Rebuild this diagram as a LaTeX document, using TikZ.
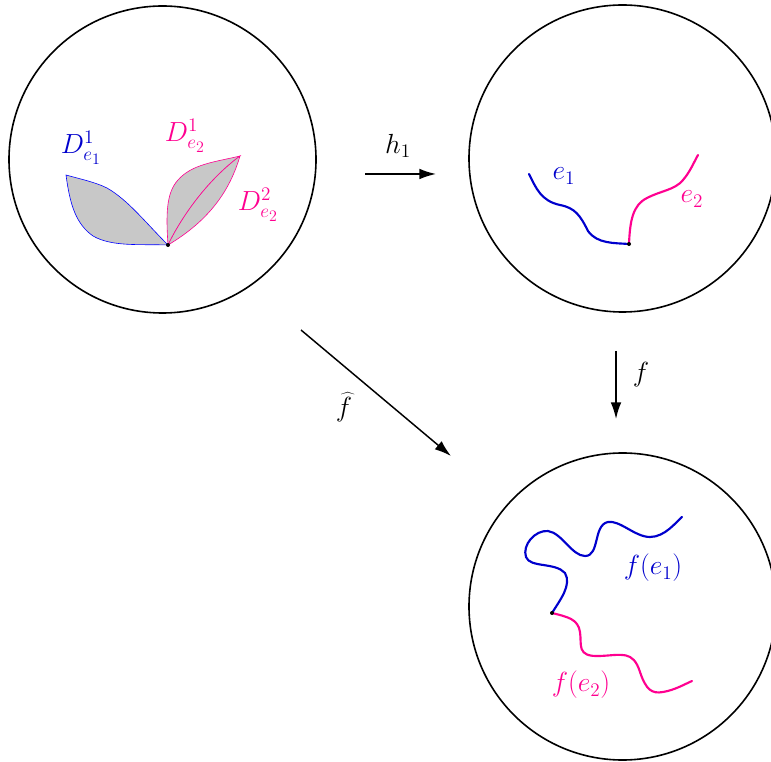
\documentclass[tikz,border=0pt]{standalone}
\usetikzlibrary{arrows.meta}
\definecolor{myblue}{RGB}{0,0,205}
\definecolor{mypink}{RGB}{255,0,144}
\definecolor{leafgray}{RGB}{200,200,200}
\begin{document}
\begin{tikzpicture}[x=0.75pt,y=-0.75pt,
  disk/.style={draw,line width=1.2pt,circle,minimum size=307*0.75pt,inner sep=0pt},
  curve/.style={line width=1.6pt,line cap=round},
  leaf/.style={line width=0.45pt,fill=leafgray},
  maparrow/.style={line width=1.1pt,-{Latex[length=12.5pt,width=8pt]}},
  lbl/.style={font=\huge,inner sep=1pt},
  dot/.style={circle,fill=black,inner sep=0pt,minimum size=3pt}]
\useasboundingbox (0,0) rectangle (771,762);
% disks
\node[disk] (D1) at (162.5,159.5) {};
\node[disk] (D2) at (622.5,158.5) {};
\node[disk] (D3) at (622.5,606.5) {};
% left disk leaves
\coordinate (v1) at (168,245);
\coordinate (tb) at (66,175);
\coordinate (tp) at (240,156);
\draw[leaf,draw=blue] (tb) .. controls (70,205) and (76,224) .. (93,236)
   .. controls (112,247) and (140,244) .. (v1)
   .. controls (145,222) and (128,200) .. (107,188)
   .. controls (95,182) and (80,179) .. (tb) -- cycle;
\draw[leaf,draw=mypink] (v1) .. controls (166,215) and (166,193) .. (178,180)
   .. controls (192,164) and (215,162) .. (tp)
   .. controls (205,182) and (180,220) .. (v1) -- cycle;
\draw[leaf,draw=mypink] (v1) .. controls (180,220) and (205,182) .. (tp)
   .. controls (230,190) and (210,220) .. (v1) -- cycle;
\node[dot] (p1) at (v1) {};
\node[lbl,text=myblue] (L1) at (81,148) {$D^1_{e_1}$};
\node[lbl,text=mypink] (L2) at (185,136) {$D^1_{e_2}$};
\node[lbl,text=mypink] (L3) at (258,205) {$D^2_{e_2}$};
% top right disk
\coordinate (v2) at (629,244);
\draw[curve,draw=myblue] (529,174) .. controls (536,188) and (541,201) .. (560,205)
  .. controls (575,208) and (580,215) .. (588,231)
  .. controls (597,244) and (615,243) .. (v2);
\draw[curve,draw=mypink] (v2) .. controls (630,220) and (633,205) .. (647,198)
  .. controls (660,191) and (675,190) .. (683,180)
  .. controls (690,172) and (694,162) .. (698,155);
\node[dot] (p2) at (v2) {};
\node[lbl,text=myblue] (E1) at (564,176) {$e_1$};
\node[lbl,text=mypink] (E2) at (692,199) {$e_2$};
% bottom right disk
\coordinate (v3) at (552,613);
\draw[curve,draw=myblue] (v3) .. controls (560,600) and (572,585) .. (565,573)
  .. controls (555,562) and (530,568) .. (526,557)
  .. controls (522,545) and (535,530) .. (548,531)
  .. controls (562,533) and (572,556) .. (585,556)
  .. controls (600,556) and (593,525) .. (608,522)
  .. controls (620,520) and (635,537) .. (650,537)
  .. controls (665,537) and (676,522) .. (682,517);
\draw[curve,draw=mypink] (v3) .. controls (568,617) and (578,619) .. (580,632)
  .. controls (582,645) and (576,657) .. (600,656)
  .. controls (622,655) and (633,650) .. (640,672)
  .. controls (646,690) and (652,694) .. (663,692)
  .. controls (675,690) and (685,684) .. (692,681);
\node[dot] (p3) at (v3) {};
\node[lbl,text=myblue] (F1) at (653,568) {$f(e_1)$};
\node[lbl,text=mypink] (F2) at (581,685) {$f(e_2)$};
% maps
\coordinate (h1s) at (365,174);
\coordinate (h1e) at (436,174);
\draw[maparrow] (h1s) -- (h1e);
\node[lbl] (H1) at (398,146) {$h_1$};
\coordinate (fs) at (616,351);
\coordinate (fe) at (616,419);
\draw[maparrow] (fs) -- (fe);
\node[lbl] (FL) at (641,375) {$f$};
\coordinate (gs) at (301,330);
\coordinate (ge) at (451,456);
\draw[maparrow] (gs) -- (ge);
\node[lbl] (G) at (344,407) {$\widehat{f}$};
\end{tikzpicture}
\end{document}
